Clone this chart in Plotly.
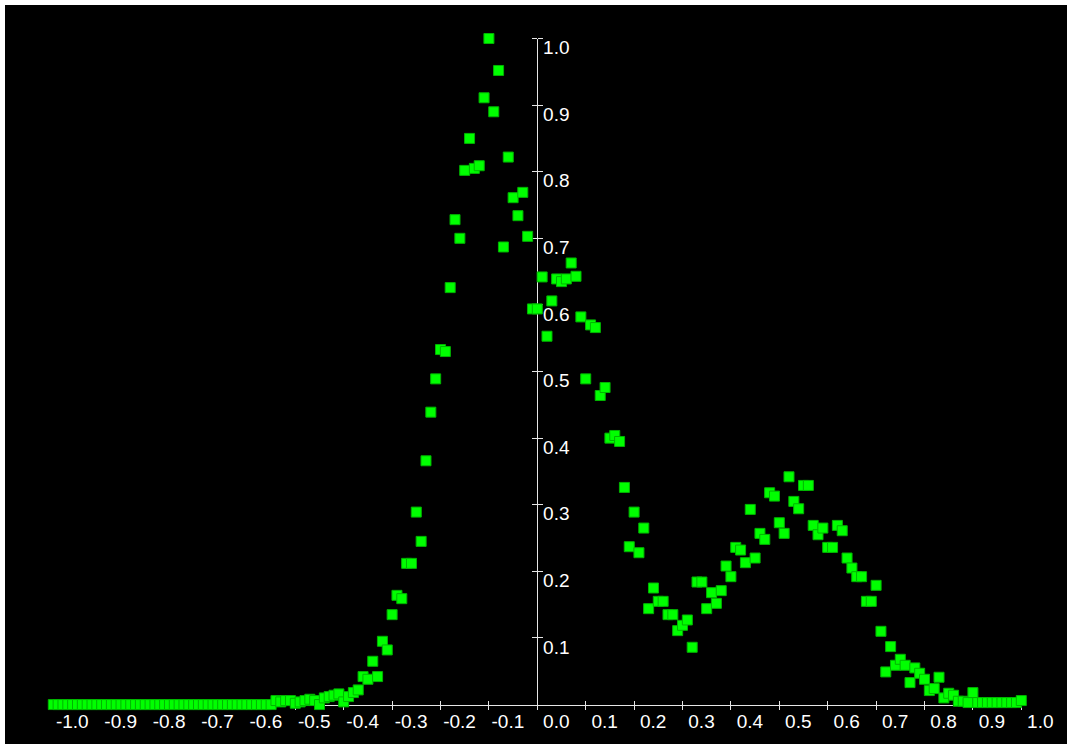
import plotly.graph_objects as go

# ---- data ----
x_vals = [
    -1.00, -0.99, -0.98, -0.97, -0.96, -0.95, -0.94, -0.93, -0.92, -0.91,
    -0.90, -0.89, -0.88, -0.87, -0.86, -0.85, -0.84, -0.83, -0.82, -0.81,
    -0.80, -0.79, -0.78, -0.77, -0.76, -0.75, -0.74, -0.73, -0.72, -0.71,
    -0.70, -0.69, -0.68, -0.67, -0.66, -0.65, -0.64, -0.63, -0.62, -0.61,
    -0.60, -0.59, -0.58, -0.57, -0.56, -0.55, -0.54, -0.53, -0.52, -0.51,
    -0.50, -0.49, -0.48, -0.47, -0.46, -0.45, -0.44, -0.43, -0.42, -0.41,
    -0.40, -0.39, -0.38, -0.37, -0.36, -0.35, -0.34, -0.33, -0.32, -0.31,
    -0.30, -0.29, -0.28, -0.27, -0.26, -0.25, -0.24, -0.23, -0.22, -0.21,
    -0.20, -0.19, -0.18, -0.17, -0.16, -0.15, -0.14, -0.13, -0.12, -0.11,
    -0.10, -0.09, -0.08, -0.07, -0.06, -0.05, -0.04, -0.03, -0.02, -0.01,
    0.00, 0.01, 0.02, 0.03, 0.04, 0.05, 0.06, 0.07, 0.08, 0.09,
    0.10, 0.11, 0.12, 0.13, 0.14, 0.15, 0.16, 0.17, 0.18, 0.19,
    0.20, 0.21, 0.22, 0.23, 0.24, 0.25, 0.26, 0.27, 0.28, 0.29,
    0.30, 0.31, 0.32, 0.33, 0.34, 0.35, 0.36, 0.37, 0.38, 0.39,
    0.40, 0.41, 0.42, 0.43, 0.44, 0.45, 0.46, 0.47, 0.48, 0.49,
    0.50, 0.51, 0.52, 0.53, 0.54, 0.55, 0.56, 0.57, 0.58, 0.59,
    0.60, 0.61, 0.62, 0.63, 0.64, 0.65, 0.66, 0.67, 0.68, 0.69,
    0.70, 0.71, 0.72, 0.73, 0.74, 0.75, 0.76, 0.77, 0.78, 0.79,
    0.80, 0.81, 0.82, 0.83, 0.84, 0.85, 0.86, 0.87, 0.88, 0.89,
    0.90, 0.91, 0.92, 0.93, 0.94, 0.95, 0.96, 0.97, 0.98, 0.99,
    1.00,
]

y_vals = [
    0.000, 0.000, 0.000, 0.000, 0.000, 0.000, 0.000, 0.000, 0.000, 0.000,
    0.000, 0.000, 0.000, 0.000, 0.000, 0.000, 0.000, 0.000, 0.000, 0.000,
    0.000, 0.000, 0.000, 0.000, 0.000, 0.000, 0.000, 0.000, 0.000, 0.000,
    0.000, 0.000, 0.000, 0.000, 0.000, 0.000, 0.000, 0.000, 0.000, 0.000,
    0.000, 0.000, 0.000, 0.000, 0.000, 0.000, 0.006, 0.004, 0.006, 0.006,
    0.002, 0.004, 0.006, 0.008, 0.006, 0.000, 0.010, 0.012, 0.014, 0.016,
    0.004, 0.012, 0.018, 0.022, 0.042, 0.038, 0.065, 0.042, 0.095, 0.082,
    0.135, 0.164, 0.159, 0.212, 0.212, 0.289, 0.245, 0.366, 0.439, 0.489,
    0.533, 0.530, 0.626, 0.728, 0.700, 0.802, 0.850, 0.805, 0.809, 0.911,
    1.000, 0.890, 0.952, 0.687, 0.822, 0.761, 0.734, 0.769, 0.703, 0.594,
    0.594, 0.642, 0.553, 0.606, 0.639, 0.635, 0.639, 0.663, 0.643, 0.582,
    0.489, 0.570, 0.566, 0.464, 0.476, 0.400, 0.404, 0.395, 0.326, 0.237,
    0.289, 0.228, 0.265, 0.144, 0.175, 0.155, 0.155, 0.135, 0.135, 0.111,
    0.119, 0.127, 0.086, 0.184, 0.184, 0.144, 0.168, 0.152, 0.171, 0.208,
    0.192, 0.236, 0.232, 0.213, 0.293, 0.220, 0.257, 0.248, 0.318, 0.313,
    0.273, 0.257, 0.342, 0.305, 0.294, 0.329, 0.329, 0.269, 0.255, 0.265,
    0.236, 0.236, 0.269, 0.261, 0.220, 0.205, 0.192, 0.192, 0.155, 0.155,
    0.179, 0.110, 0.049, 0.087, 0.059, 0.068, 0.059, 0.033, 0.055, 0.047,
    0.038, 0.021, 0.024, 0.041, 0.010, 0.017, 0.014, 0.005, 0.005, 0.003,
    0.018, 0.003, 0.003, 0.003, 0.003, 0.003, 0.003, 0.003, 0.003, 0.003,
    0.006,
]

x_ticks = [-1.0, -0.9, -0.8, -0.7, -0.6, -0.5, -0.4, -0.3, -0.2, -0.1, 0.0,
           0.1, 0.2, 0.3, 0.4, 0.5, 0.6, 0.7, 0.8, 0.9, 1.0]
x_tick_labels = ["-1.0", "-0.9", "-0.8", "-0.7", "-0.6", "-0.5", "-0.4", "-0.3",
                 "-0.2", "-0.1", "0.0", "0.1", "0.2", "0.3", "0.4", "0.5",
                 "0.6", "0.7", "0.8", "0.9", "1.0"]
y_ticks = [0.1, 0.2, 0.3, 0.4, 0.5, 0.6, 0.7, 0.8, 0.9, 1.0]
y_tick_labels = ["0.1", "0.2", "0.3", "0.4", "0.5", "0.6", "0.7", "0.8", "0.9", "1.0"]

# ---- view window ----
XMIN, XMAX = -1.0998, 1.0944
YMIN, YMAX = -0.0592, 1.0503


def fx(v):
    return (v - XMIN) / (XMAX - XMIN)


def fy(v):
    return (v - YMIN) / (YMAX - YMIN)


AX_COLOR = "#e6e6e6"
TICK_FONT = dict(family="Liberation Sans, Arial, sans-serif", size=19, color="#ffffff")

fig = go.Figure()
# axis-carrying (empty) traces
fig.add_trace(go.Scatter(x=[None], y=[None], xaxis="x", yaxis="y",
                         showlegend=False, hoverinfo="skip"))
fig.add_trace(go.Scatter(x=[None], y=[None], xaxis="x2", yaxis="y2",
                         showlegend=False, hoverinfo="skip"))
# data
fig.add_trace(go.Scatter(
    x=x_vals, y=y_vals, mode="markers", xaxis="x3", yaxis="y3",
    marker=dict(symbol="square", size=10, color="#00ff00",
                line=dict(width=1, color="#00b400")),
    showlegend=False, cliponaxis=False,
))

common = dict(showgrid=False, zeroline=False, fixedrange=True, automargin=False)

fig.update_layout(
    width=1062, height=739,
    margin=dict(l=0, t=0, r=0, b=0, pad=0),
    paper_bgcolor="#000000",
    plot_bgcolor="rgba(0,0,0,0)",
    showlegend=False,
    xaxis=dict(domain=[fx(-1.0), fx(1.0)], range=[-1.0, 1.0], anchor="free",
               position=fy(0.0), showline=True, linecolor=AX_COLOR, linewidth=1,
               ticks="outside", ticklen=4, tickwidth=1, tickcolor=AX_COLOR,
               tickmode="array", tickvals=x_ticks, ticktext=x_tick_labels,
               tickfont=TICK_FONT, ticklabelshift=19, ticklabelstandoff=-4,
               layer="below traces", **common),
    yaxis=dict(domain=[fy(0.0), fy(1.0)], range=[0.0, 1.0], anchor="free",
               position=fx(0.0), side="right", showline=True, linecolor=AX_COLOR,
               linewidth=1, ticks="outside", ticklen=5, tickwidth=1,
               tickcolor=AX_COLOR, tickmode="array", tickvals=y_ticks,
               ticktext=y_tick_labels, tickfont=TICK_FONT, ticklabelshift=9,
               ticklabelstandoff=-4, layer="below traces", **common),
    xaxis2=dict(domain=[fx(-1.0), fx(1.0)], range=[-1.0, 1.0], anchor="free",
                position=fy(0.0), side="top", showline=False, ticks="outside",
                ticklen=4, tickwidth=1, tickcolor=AX_COLOR, tickmode="array",
                tickvals=x_ticks, showticklabels=False, **common),
    yaxis2=dict(domain=[fy(0.0), fy(1.0)], range=[0.0, 1.0], anchor="free",
                position=fx(0.0), side="left", showline=False, ticks="outside",
                ticklen=5, tickwidth=1, tickcolor=AX_COLOR, tickmode="array",
                tickvals=y_ticks, showticklabels=False, **common),
    xaxis3=dict(domain=[0, 1], range=[XMIN, XMAX], anchor="y3", visible=False, **common),
    yaxis3=dict(domain=[0, 1], range=[YMIN, YMAX], anchor="x3", visible=False, **common),
)

fig.write_html(
    "out.html",
    config={"displayModeBar": False},
    post_script="document.body.style.margin='5px 0 0 5px';document.body.style.overflow='hidden';document.body.style.background='#ffffff';",
)
